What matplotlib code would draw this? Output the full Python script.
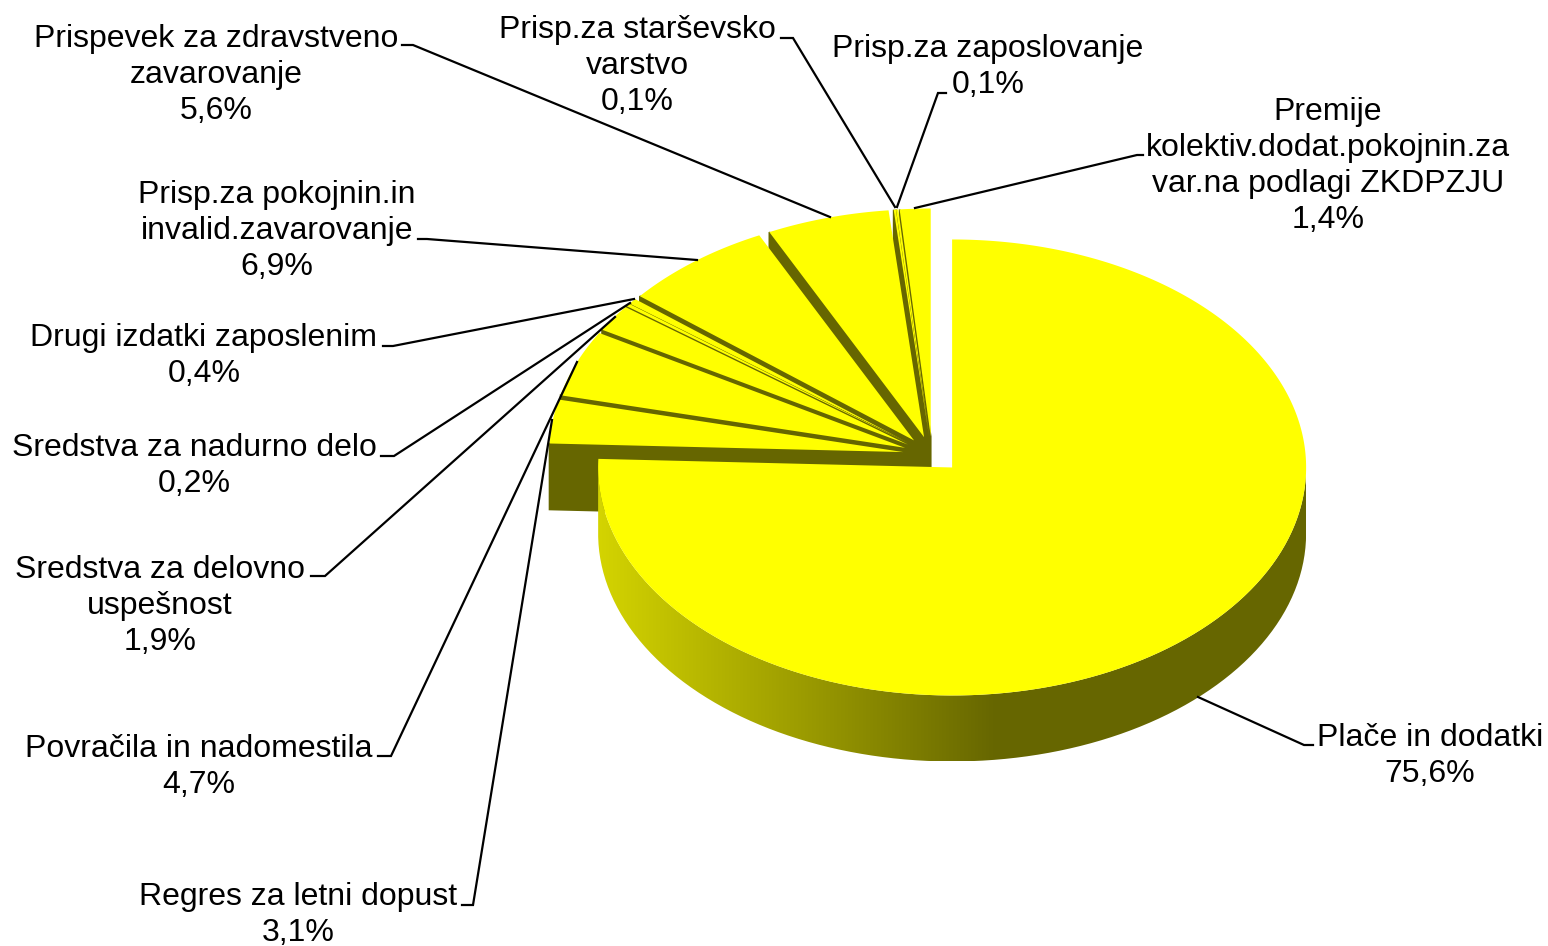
import numpy as np
import matplotlib.pyplot as plt
from matplotlib.patches import PathPatch
from matplotlib.path import Path

# podatki
imena = ['Plače in dodatki', 'Regres za letni dopust', 'Povračila in nadomestila',
         'Sredstva za delovno\nuspešnost', 'Sredstva za nadurno delo', 'Drugi izdatki zaposlenim',
         'Prisp.za pokojnin.in\ninvalid.zavarovanje', 'Prispevek za zdravstveno\nzavarovanje',
         'Prisp.za starševsko\nvarstvo', 'Prisp.za zaposlovanje',
         'Premije\nkolektiv.dodat.pokojnin.za\nvar.na podlagi ZKDPZJU']
vrednosti = [75.6, 3.1, 4.7, 1.9, 0.2, 0.4, 6.9, 5.6, 0.1, 0.1, 1.4]

# polozaj napisov (sredina besedila) in crte do rezin
napis_x = [1430, 298, 199, 160, 194, 204, 277, 216, 637, 988, 1328]
napis_y = [756, 915, 767, 606, 466, 356, 231, 75, 66, 67, 166]
crte = [
    [(1198, 697), (1304, 745), (1313, 745)],
    [(552, 420), (473, 905), (462, 905)],
    [(577, 362), (391, 756), (378, 756)],
    [(615, 317), (325, 576), (311, 576)],
    [(630, 303), (394, 456), (381, 456)],
    [(634, 299), (393, 346), (383, 346)],
    [(697, 260), (427, 239), (418, 239)],
    [(830, 217), (413, 45), (402, 45)],
    [(895, 207), (793, 38), (781, 38)],
    [(897, 207), (938, 93), (946, 93)],
    [(915, 208), (1137, 155), (1143, 155)],
]

# geometrija pite
cx, cy = 932, 454.5
rx, ry = 354, 228
eks_x, eks_y = 29, 18
globina = 66
rumena = '#ffff00'
temna = '#666600'


def tocka(x0, y0, kot):
    return x0 + rx * np.sin(kot), y0 - ry * np.cos(kot)


plt.rcParams['font.family'] = ['Liberation Sans', 'DejaVu Sans']
fig = plt.figure(figsize=(15.48, 9.46), dpi=100)
ax = fig.add_axes([0, 0, 1, 1])
ax.set_xlim(0, 1548)
ax.set_ylim(946, 0)
ax.axis('off')

delezi = np.array(vrednosti) / sum(vrednosti) * 2 * np.pi
konci = np.cumsum(delezi)
zacetki = konci - delezi

# od zadaj naprej: najprej zgornje rezine, glavna rezina nazadnje
for i in range(len(vrednosti) - 1, -1, -1):
    sredina = (zacetki[i] + konci[i]) / 2
    x0 = cx + eks_x * np.sin(sredina)
    y0 = cy - eks_y * np.cos(sredina)
    t = np.linspace(zacetki[i], konci[i], max(int(delezi[i] * 100), 4))
    ax_x, ax_y = tocka(x0, y0, t)
    px = np.concatenate([[x0], ax_x])
    py = np.concatenate([[y0], ax_y])

    if i == 0:
        # stranica glavne rezine s prelivom
        t2 = np.linspace(np.pi / 2, 3 * np.pi / 2, 200)
        sx, sy = tocka(x0, y0, t2)
        pot = Path(np.column_stack([np.concatenate([sx, sx[::-1]]),
                                    np.concatenate([sy, sy[::-1] + globina])]))
        x_levo, x_desno = sx.min(), sx.max()
        prehod = np.clip((np.arange(x_levo, x_desno) - x_levo) / 398, 0, 1)
        barve = np.zeros((1, len(prehod), 3))
        barve[0, :, 0] = (212 - 110 * prehod) / 255
        barve[0, :, 1] = (212 - 110 * prehod) / 255
        slika = ax.imshow(barve, extent=[x_levo, x_desno, y0 + ry + globina, y0],
                          aspect='auto', zorder=2, interpolation='nearest')
        slika.set_clip_path(PathPatch(pot, transform=ax.transData))
    else:
        # vidna stena izvlecene rezine
        ax.fill([px[0], px[1], px[1], px[0]],
                [py[0], py[1], py[1] + globina, py[0] + globina],
                facecolor=temna, edgecolor=temna, lw=1.2, zorder=2)
    ax.fill(px, py, color=rumena, lw=0, zorder=2)

ax.set_xlim(0, 1548)
ax.set_ylim(946, 0)

# crte in napisi
for i in range(len(imena)):
    xs = [p[0] for p in crte[i]]
    ys = [p[1] for p in crte[i]]
    ax.plot(xs, ys, color='black', lw=1.6, zorder=3, solid_joinstyle='miter')
    odstotek = f'{vrednosti[i]:.1f}%'.replace('.', ',')
    ax.text(napis_x[i], napis_y[i], imena[i] + '\n' + odstotek, ha='center', va='center',
            fontsize=23.05, color='black', linespacing=1.26, zorder=4)

fig.savefig('out.png', dpi=100)
